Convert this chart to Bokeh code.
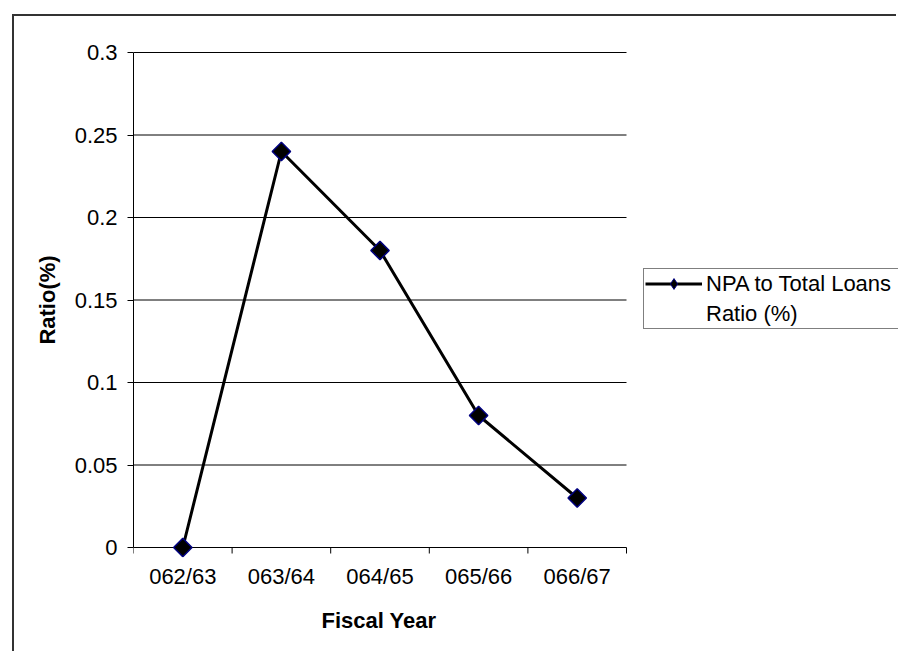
from bokeh.plotting import figure
from bokeh.models import (ColumnDataSource, FixedTicker, NumeralTickFormatter,
                          Legend, LegendItem, Range1d, Title)
from bokeh.embed import file_html
from bokeh.resources import INLINE

# Non-performing assets relative to total loans, by fiscal year
years = ["062/63", "063/64", "064/65", "065/66", "066/67"]
npa_ratio = [0.0, 0.24, 0.18, 0.08, 0.03]
y_ticks = [0, 0.05, 0.1, 0.15, 0.2, 0.25, 0.3]
series_lines = ["NPA to Total Loans", "Ratio (%)"]
x_title = "Fiscal Year"
y_title = "Ratio(%)"

FONT = "Liberation Sans"
FS = "22px"

# categories sit in the middle of unit-wide slots; slot edges carry the tick marks
n = len(years)
x_centers = [i + 0.5 for i in range(n)]
x_edges = list(range(n + 1))
src = ColumnDataSource(dict(x=x_centers, y=npa_ratio, year=years))

# plotting area is 493 x 495 px; the frame runs on to the right edge so the
# legend beside the chart is drawn inside it, and has 10 px head/foot room
PLOT_W, FRAME_W, PAD_PX, PLOT_H = 493, 765, 10, 495
x_end = n * FRAME_W / PLOT_W
y_lo, y_hi = y_ticks[0], y_ticks[-1]
pad = (y_hi - y_lo) * PAD_PX / PLOT_H
tick_len = pad * 0.6

p = figure(width=884, height=637,
           x_range=Range1d(0, x_end), y_range=Range1d(y_lo - pad, y_hi + pad),
           output_backend="svg", toolbar_location=None,
           min_border_left=119, min_border_right=0,
           min_border_top=26, min_border_bottom=96)
p.outline_line_color = None
p.background_fill_color = "white"
p.border_fill_color = "white"
# chart-area border (left and top edges are visible inside the window)
p.styles = {"margin-left": "12px", "margin-top": "14px",
            "border-left": "2px solid #333333", "border-top": "2px solid #333333"}

p.xgrid.visible = False
p.ygrid.visible = False

# horizontal gridlines across the category slots; the one at zero is the base line
p.segment(x0=[0] * len(y_ticks), y0=y_ticks, x1=[n] * len(y_ticks), y1=y_ticks,
          line_color="black", line_width=1)
# category tick marks on the slot edges, hanging below the base line
p.segment(x0=x_edges, y0=[y_lo] * len(x_edges), x1=x_edges,
          y1=[y_lo - tick_len] * len(x_edges), line_color="black", line_width=1)

xa = p.xaxis[0]
xa.bounds = (0, n)
xa.ticker = FixedTicker(ticks=x_centers)
xa.major_label_overrides = {c: y for c, y in zip(x_centers, years)}
xa.major_tick_in = 0
xa.major_tick_out = 0
xa.minor_tick_line_color = None
xa.major_tick_line_color = None
xa.axis_line_color = None
xa.major_label_standoff = 6
xa.major_label_text_font = FONT
xa.major_label_text_font_size = FS
xa.major_label_text_color = "black"

# x-axis title, centred under the category slots rather than the whole frame
p.add_layout(Title(text=x_title, align="left", offset=188, vertical_align="middle",
                   standoff=31, text_font=FONT, text_font_size=FS,
                   text_font_style="bold", text_color="black"), "below")

ya = p.yaxis[0]
ya.bounds = (y_lo, y_hi)
ya.ticker = FixedTicker(ticks=y_ticks)
ya.formatter = NumeralTickFormatter(format="0.[00]")
ya.major_tick_in = 0
ya.major_tick_out = 6
ya.major_tick_line_color = "black"
ya.minor_tick_line_color = None
ya.axis_line_color = "black"
ya.major_label_standoff = 10
ya.major_label_text_font = FONT
ya.major_label_text_font_size = FS
ya.major_label_text_color = "black"
ya.axis_label = y_title
ya.axis_label_text_font = FONT
ya.axis_label_text_font_size = FS
ya.axis_label_text_font_style = "bold"
ya.axis_label_text_color = "black"
ya.axis_label_standoff = 12

line_r = p.line("x", "y", source=src, line_color="black", line_width=3)
# diamond key for the legend (zero size in the plot itself)
key_mark = p.scatter("x", "y", source=src, marker="diamond", size=0,
                     fill_color="black", line_color="#000080", line_width=1)
mark_r = p.scatter("x", "y", source=src, marker="square", angle=0.785398,
                   size=13, fill_color="black", line_color="#000080",
                   line_width=1.5)
# blank key for the wrapped second line of the series name
key_blank = p.line(x=[], y=[], line_alpha=0)

legend = Legend(items=[LegendItem(label=series_lines[0], renderers=[line_r, key_mark]),
                       LegendItem(label=series_lines[1], renderers=[key_blank])],
                location=(510, 228), orientation="vertical",
                glyph_width=57, glyph_height=27, label_height=22, label_width=200,
                label_standoff=4, padding=1, margin=0, spacing=3,
                border_line_color="black", border_line_width=1.5,
                background_fill_color="white", background_fill_alpha=1,
                label_text_font=FONT, label_text_font_size=FS,
                label_text_color="black")
p.add_layout(legend, "center")

open("out.html", "w").write(file_html(p, INLINE))
